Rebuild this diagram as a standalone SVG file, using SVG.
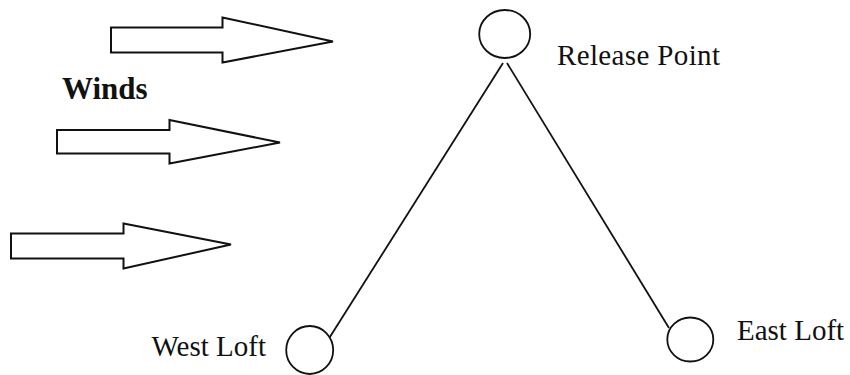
<svg xmlns="http://www.w3.org/2000/svg" width="850" height="375" viewBox="0 0 850 375">
<style>
.arrow{fill:#fff;stroke:#111;stroke-width:2;stroke-linejoin:miter}
.node{fill:#fff;stroke:#111;stroke-width:1.8}
.lbl{font-family:"Liberation Serif","Times New Roman",serif;font-size:29px;fill:#111}
.conn{stroke:#111;stroke-width:1.8;fill:none}
</style>
<rect width="850" height="375" fill="#fff"/>
<g id="winds">
<polygon class="arrow" points="111,27.5 222.5,27.5 222.5,17.5 333,41.5 222.5,62.5 222.5,52.5 111,52.5"/>
<polygon class="arrow" points="57,130 169.5,130 169.5,120 280,142.5 169.5,163.5 169.5,153.5 57,153.5"/>
<polygon class="arrow" points="11,233.5 123.5,233.5 123.5,223.5 231,244.5 123.5,268.5 123.5,258.5 11,258.5"/>
<text x="62" y="99" font-family="Liberation Serif,Times New Roman,serif" font-weight="bold" font-size="31" fill="#111">Winds</text>
</g>
<g id="connectors">
<line class="conn" x1="503" y1="63" x2="328" y2="340"/>
<line class="conn" x1="507" y1="63" x2="669" y2="328"/>
</g>
<g id="release-point">
<ellipse class="node" cx="504.7" cy="34" rx="25.5" ry="24"/>
<text class="lbl" x="557" y="64.5" textLength="163">Release Point</text>
</g>
<g id="west-loft">
<ellipse class="node" cx="309.7" cy="350" rx="23.5" ry="24"/>
<text class="lbl" x="151.5" y="356">West Loft</text>
</g>
<g id="east-loft">
<ellipse class="node" cx="690.3" cy="339.5" rx="23" ry="22"/>
<text class="lbl" x="737" y="339.5">East Loft</text>
</g>
</svg>
